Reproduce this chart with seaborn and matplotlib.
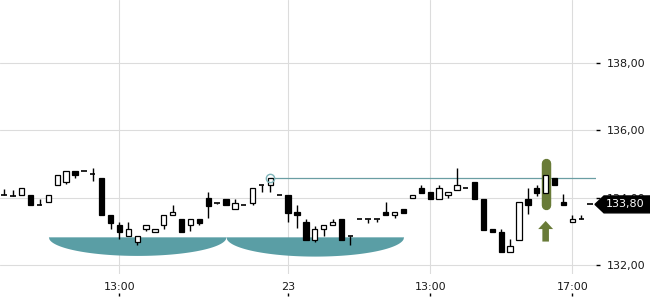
import numpy as np
import pandas as pd
import matplotlib
matplotlib.use("Agg")
import matplotlib.pyplot as plt
import matplotlib.transforms as mtransforms
from matplotlib.patches import Polygon
from matplotlib.ticker import FuncFormatter
import seaborn as sns

# ---------------- data (15-minute candles, two sessions) ----------------
opens = [134.07, 134.05, 134.07, 134.08, 133.78, 133.86, 134.37, 134.47, 134.79, 134.79, 134.69,
         134.59, 133.49, 133.18, 132.86, 132.68, 133.07, 132.98, 133.18, 133.48, 133.36, 133.18,
         133.36, 133.98, 133.85, 133.97, 133.66, 133.79, 133.85, 134.37, 134.37, 134.07,
         134.07, 133.58, 133.28, 132.76, 133.07, 133.18, 133.36, 132.85, 133.36, 133.36, 133.36,
         133.58, 133.48, 133.66, 133.98, 134.28, 134.17, 133.97, 134.07, 134.22, 134.28, 134.46,
         133.97, 133.07, 132.99, 132.38, 132.76, 133.97, 134.28, 134.15, 134.57, 133.87, 133.27,
         133.36, 133.80]
closes = [134.07, 134.05, 134.28, 133.78, 133.78, 134.08, 134.67, 134.79, 134.66, 134.79, 134.69,
          133.48, 133.26, 132.97, 133.07, 132.86, 133.18, 133.07, 133.49, 133.58, 132.97, 133.36,
          133.26, 133.76, 133.85, 133.78, 133.85, 133.79, 134.28, 134.37, 134.57, 134.07,
          133.56, 133.48, 132.76, 133.07, 133.18, 133.28, 132.76, 132.85, 133.36, 133.36, 133.36,
          133.48, 133.58, 133.56, 134.08, 134.15, 133.97, 134.28, 134.17, 134.37, 134.28, 133.97,
          133.05, 132.97, 132.38, 132.56, 133.87, 133.78, 134.15, 134.66, 134.37, 133.78, 133.36,
          133.36, 133.80]
highs = [134.25, 134.23, 134.28, 134.08, 133.97, 134.08, 134.67, 134.79, 134.79, 134.79, 134.87,
         134.59, 133.49, 133.28, 133.28, 132.86, 133.18, 133.07, 133.49, 133.78, 133.36, 133.36,
         133.36, 134.17, 133.85, 133.97, 133.97, 133.79, 134.28, 134.37, 134.58, 134.07,
         134.07, 133.78, 133.36, 133.15, 133.18, 133.36, 133.36, 132.85, 133.36, 133.36, 133.36,
         133.87, 133.58, 133.66, 134.08, 134.37, 134.17, 134.37, 134.17, 134.89, 134.28, 134.46,
         133.97, 133.07, 133.07, 132.77, 133.87, 134.28, 134.37, 134.66, 134.57, 134.10, 133.49,
         133.48, 133.80]
lows = [134.07, 134.05, 134.07, 133.78, 133.78, 133.86, 134.37, 134.40, 134.59, 134.79, 134.49,
        133.48, 133.08, 132.79, 132.86, 132.59, 133.00, 132.98, 133.08, 133.48, 132.97, 133.00,
        133.20, 133.39, 133.80, 133.78, 133.66, 133.79, 133.79, 134.18, 134.18, 134.07,
        133.29, 133.09, 132.76, 132.69, 132.87, 133.18, 132.76, 132.59, 133.36, 133.26, 133.29,
        133.48, 133.39, 133.56, 133.98, 134.15, 133.97, 133.97, 134.00, 134.22, 134.28, 133.97,
        133.05, 132.97, 132.38, 132.38, 132.76, 133.51, 134.05, 134.15, 134.37, 133.78, 133.27,
        133.36, 133.80]

x_tick_positions = [13, 32, 48, 64]
x_tick_labels = ["13:00", "23", "13:00", "17:00"]
y_ticks = [132, 134, 136, 138]

last_price = 133.80
resistance_index = 30
resistance_level = 134.58
signal_index = 61
# semi-elliptic zones: (start index, end index, top price, depth)
zone_starts = [5, 25]
zone_ends = [25, 45]
zone_tops = [132.84, 132.84]
zone_depths = [0.55, 0.57]

df = pd.DataFrame({"open": opens, "high": highs, "low": lows, "close": closes})
df["idx"] = np.arange(len(df))

# ---------------- style ----------------
sns.set_style("white")
plt.rcParams["font.family"] = ["DejaVu Sans"]

TEAL = "#5a9ea5"
OLIVE = "#697b38"
GRID = "#dcdcdc"

fig = plt.figure(figsize=(6.5, 3), dpi=100)
ax = fig.add_axes([0, 26 / 300, 596 / 650, 274 / 300])
ax.set_xlim(-0.45, 66.67)
ax.set_ylim(131.74, 139.85)

for s in ax.spines.values():
    s.set_visible(False)
ax.set_axisbelow(True)
ax.grid(True, color=GRID, lw=0.8)

# zones
for xs, xe, top, dep in zip(zone_starts, zone_ends, zone_tops, zone_depths):
    cx = (xs + xe) / 2
    a = (xe - xs) / 2
    xx = np.linspace(xs, xe, 300)
    yy = top - dep * np.sqrt(np.clip(1 - ((xx - cx) / a) ** 2, 0, 1))
    ax.fill_between(xx, yy, top, color=TEAL, lw=0, zorder=1)

# resistance line
sns.lineplot(x=[resistance_index, 66.67], y=[resistance_level, resistance_level],
             ax=ax, color="#6a9ea3", lw=0.9, zorder=2)
ax.plot([resistance_index], [resistance_level], marker="o", ms=6, mfc="none",
        mec="#7fb4b9", mew=1, zorder=6)

# highlight of signal candle
sig_o = df.loc[signal_index]
ax.plot([signal_index, signal_index], [135.04, 133.79], color=OLIVE, lw=6.8,
        solid_capstyle="round", zorder=2)
# arrow
ax_w = 0.84
hw = 0.37
tip, base, bottom = 133.31, 133.07, 132.70
arrow = Polygon([[signal_index, tip], [signal_index + ax_w, base], [signal_index + hw, base],
                 [signal_index + hw, bottom], [signal_index - hw, bottom],
                 [signal_index - hw, base], [signal_index - ax_w, base]],
                closed=True, color=OLIVE, lw=0, zorder=3)
ax.add_patch(arrow)

# candles
w = 0.6
ax.vlines(df["idx"], df["low"], df["high"], color="black", lw=1.0, zorder=4)
up = df[df["close"] > df["open"]]
dn = df[df["close"] < df["open"]]
dj = df[df["close"] == df["open"]]
ax.bar(up["idx"], up["close"] - up["open"], bottom=up["open"], width=w,
       color="white", edgecolor="black", lw=0.9, zorder=5)
ax.bar(dn["idx"], dn["open"] - dn["close"], bottom=dn["close"], width=w,
       color="black", edgecolor="black", lw=0.9, zorder=5)
ax.hlines(dj["open"], dj["idx"] - w / 2, dj["idx"] + w / 2, color="black", lw=1.2, zorder=5)

# axes ticks
ax.set_xticks(x_tick_positions)
ax.set_xticklabels(x_tick_labels)
ax.tick_params(axis="x", length=0, pad=5.5, labelsize=8, labelcolor="#1a1a1a")
ax.yaxis.tick_right()
ax.set_yticks(y_ticks)
ax.yaxis.set_major_formatter(FuncFormatter(lambda v, p: f"{v:.2f}".replace(".", ",")))
ax.tick_params(axis="y", length=3, width=1, color="black", pad=4.5, labelsize=8,
               labelcolor="#1a1a1a", right=True, left=False)

sec = ax.secondary_xaxis(-0.082)
sec.set_xticks(x_tick_positions)
sec.tick_params(axis="x", direction="in", length=2.5, width=1, color="black", labelbottom=False)
for s in sec.spines.values():
    s.set_visible(False)

# last price tag
tr = mtransforms.blended_transform_factory(fig.transFigure, ax.transData)
hh = 0.25
tag = Polygon([[595 / 650, last_price], [604 / 650, last_price + hh], [1.0, last_price + hh],
               [1.0, last_price - hh], [604 / 650, last_price - hh]],
              closed=True, color="black", transform=tr, clip_on=False, zorder=10)
ax.add_patch(tag)
ax.text(606 / 650, last_price, f"{last_price:.2f}".replace(".", ","), transform=tr,
        color="white", fontsize=8, va="center", ha="left", zorder=11, clip_on=False)

fig.savefig("out.png", dpi=100)
